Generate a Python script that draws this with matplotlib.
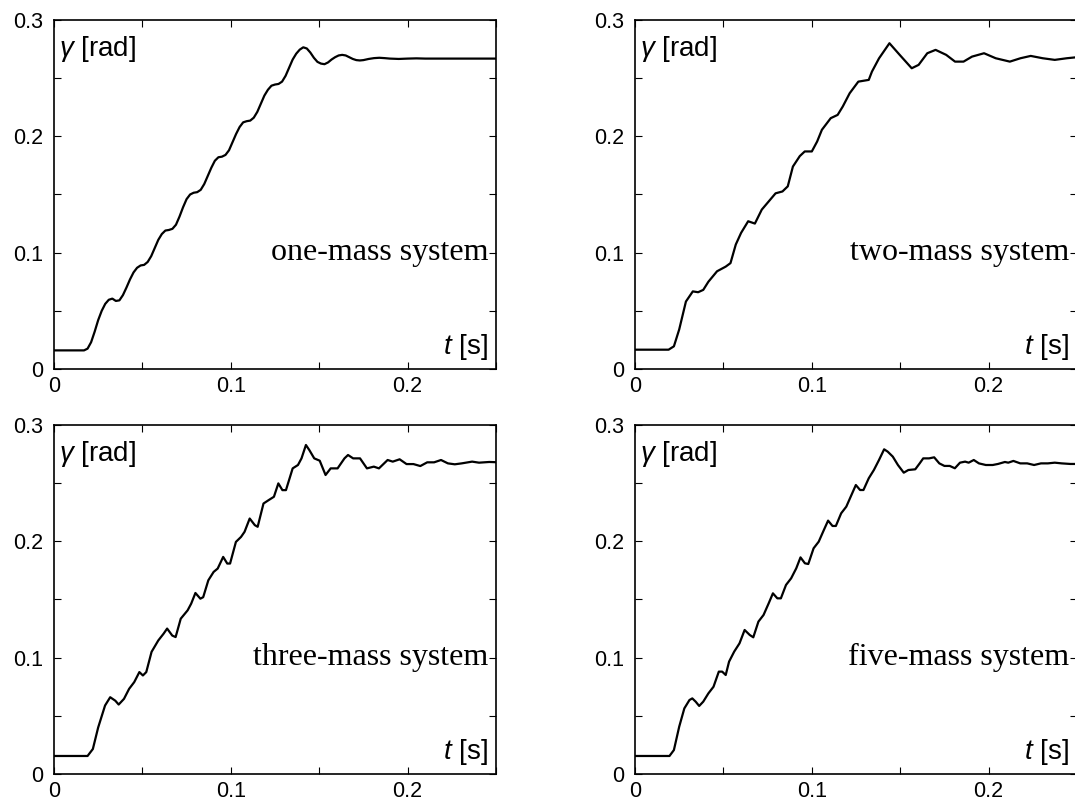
import matplotlib
matplotlib.use("Agg")
import matplotlib.pyplot as plt
from matplotlib.ticker import FixedLocator, FixedFormatter

plt.rcParams['font.family'] = ['Liberation Sans', 'DejaVu Sans']
plt.rcParams['mathtext.fontset'] = 'custom'
plt.rcParams['mathtext.rm'] = 'Liberation Sans'
plt.rcParams['mathtext.it'] = 'Liberation Sans:italic'

# values, t [s] and gamma [rad]
t1 = [0, 0.017, 0.019, 0.021, 0.023, 0.025, 0.027, 0.029, 0.031, 0.033, 0.035, 0.037,
      0.039, 0.041, 0.043, 0.045, 0.047, 0.049, 0.051, 0.053, 0.055, 0.057, 0.059, 0.061,
      0.063, 0.065, 0.067, 0.069, 0.071, 0.073, 0.075, 0.077, 0.079, 0.081, 0.083, 0.085,
      0.087, 0.089, 0.091, 0.093, 0.095, 0.097, 0.099, 0.101, 0.103, 0.105, 0.107, 0.109,
      0.111, 0.113, 0.115, 0.117, 0.119, 0.121, 0.123, 0.125, 0.127, 0.129, 0.131, 0.133,
      0.135, 0.137, 0.139, 0.141, 0.143, 0.145, 0.147, 0.149, 0.151, 0.153, 0.155, 0.157,
      0.159, 0.161, 0.163, 0.165, 0.167, 0.169, 0.171, 0.173, 0.175, 0.178, 0.181, 0.184,
      0.187, 0.190, 0.195, 0.200, 0.205, 0.210, 0.250]
g1 = [0.016, 0.016, 0.0175, 0.023, 0.032, 0.042, 0.050, 0.056, 0.0595, 0.0605, 0.0585, 0.059,
      0.0635, 0.070, 0.077, 0.083, 0.087, 0.089, 0.0895, 0.092, 0.097, 0.104, 0.111, 0.116,
      0.119, 0.1195, 0.1205, 0.124, 0.131, 0.139, 0.146, 0.150, 0.1515, 0.152, 0.154, 0.159,
      0.166, 0.173, 0.179, 0.182, 0.1825, 0.184, 0.188, 0.195, 0.202, 0.208, 0.212, 0.213,
      0.2135, 0.216, 0.221, 0.228, 0.235, 0.240, 0.2435, 0.2445, 0.245, 0.247, 0.252, 0.259,
      0.266, 0.271, 0.2745, 0.2765, 0.2755, 0.272, 0.2675, 0.264, 0.2625, 0.262, 0.2635, 0.266,
      0.268, 0.2695, 0.270, 0.2695, 0.268, 0.2665, 0.2655, 0.2652, 0.2655, 0.2665, 0.2672, 0.2675,
      0.2672, 0.2668, 0.2665, 0.2668, 0.267, 0.2668, 0.2668]

t2 = [0, 0.019, 0.022, 0.025, 0.0288, 0.0327, 0.0357, 0.0386, 0.0415, 0.0464, 0.0513, 0.054,
      0.057, 0.060, 0.064, 0.0678, 0.0717, 0.0756, 0.0795, 0.0834, 0.0864, 0.0893, 0.0932,
      0.096, 0.100, 0.103, 0.1057, 0.1107, 0.1146, 0.1175, 0.1214, 0.1263, 0.1322, 0.134,
      0.138, 0.1439, 0.1497, 0.1565, 0.1604, 0.1653, 0.170, 0.176, 0.181, 0.1858, 0.1906,
      0.1974, 0.204, 0.212, 0.218, 0.2238, 0.2306, 0.2374, 0.2442, 0.250]
g2 = [0.0166, 0.0166, 0.0195, 0.034, 0.058, 0.0667, 0.066, 0.068, 0.075, 0.084, 0.088, 0.091,
      0.107, 0.117, 0.127, 0.125, 0.137, 0.144, 0.151, 0.1526, 0.157, 0.174, 0.183,
      0.187, 0.187, 0.1955, 0.2056, 0.2156, 0.2184, 0.2256, 0.237, 0.247, 0.2485, 0.2556,
      0.267, 0.280, 0.270, 0.2585, 0.2614, 0.2714, 0.2743, 0.270, 0.2642, 0.2642, 0.2685,
      0.2714, 0.2671, 0.2642, 0.2671, 0.2691, 0.2671, 0.2657, 0.2671, 0.268]

t3 = [0, 0.019, 0.022, 0.025, 0.0289, 0.0318, 0.0347, 0.0366, 0.0396, 0.0425, 0.0454, 0.0483,
      0.0503, 0.0522, 0.0552, 0.059, 0.062, 0.064, 0.0669, 0.0688, 0.0717, 0.0756, 0.0776,
      0.080, 0.0828, 0.0844, 0.0873, 0.0903, 0.0926, 0.0957, 0.098, 0.0996, 0.1029, 0.1058,
      0.1078, 0.1107, 0.1136, 0.1152, 0.1185, 0.1214, 0.1244, 0.1269, 0.1292, 0.1312, 0.135,
      0.138, 0.140, 0.1425, 0.1444, 0.1472, 0.1503, 0.1536, 0.1565, 0.1604, 0.1643, 0.1663,
      0.1692, 0.1731, 0.177, 0.1809, 0.1838, 0.1887, 0.1916, 0.1955, 0.1994, 0.2033, 0.2072,
      0.2111, 0.215, 0.2189, 0.2228, 0.2267, 0.2306, 0.2365, 0.2404, 0.2462, 0.250]
g3 = [0.0155, 0.0155, 0.0215, 0.040, 0.0589, 0.066, 0.063, 0.0597, 0.0646, 0.0732, 0.079, 0.0876,
      0.0847, 0.0876, 0.105, 0.1148, 0.1206, 0.125, 0.119, 0.1177, 0.1335, 0.1407, 0.1464,
      0.1556, 0.1507, 0.152, 0.1665, 0.1737, 0.1766, 0.1866, 0.1809, 0.1809, 0.1995, 0.2038,
      0.2082, 0.2196, 0.2139, 0.2125, 0.2325, 0.2354, 0.2383, 0.2498, 0.244, 0.244, 0.2627,
      0.2656, 0.2713, 0.2828, 0.2785, 0.2713, 0.2693, 0.257, 0.2627, 0.2627, 0.2713, 0.2742,
      0.2713, 0.2713, 0.2627, 0.2642, 0.2627, 0.2699, 0.2685, 0.2705, 0.2664, 0.2664, 0.2647,
      0.2679, 0.2679, 0.2699, 0.267, 0.2662, 0.267, 0.2685, 0.2676, 0.2682, 0.268]

t4 = [0, 0.0195, 0.022, 0.025, 0.0279, 0.0308, 0.0324, 0.0343, 0.0363, 0.0386, 0.0415, 0.0444,
      0.0474, 0.0493, 0.0513, 0.0532, 0.0561, 0.0591, 0.062, 0.0649, 0.0669, 0.0698, 0.0727,
      0.0756, 0.078, 0.0805, 0.0825, 0.0854, 0.0883, 0.0912, 0.0936, 0.0961, 0.098, 0.101,
      0.1039, 0.1068, 0.1092, 0.1117, 0.1136, 0.1166, 0.1195, 0.1224, 0.1249, 0.1273, 0.1292,
      0.1322, 0.1351, 0.138, 0.1409, 0.1429, 0.1458, 0.1487, 0.152, 0.1546, 0.1585, 0.161,
      0.163, 0.1663, 0.1692, 0.1721, 0.175, 0.178, 0.1809, 0.1838, 0.1867, 0.1887, 0.1916,
      0.1945, 0.1984, 0.2023, 0.2053, 0.2092, 0.2111, 0.214, 0.2179, 0.2218, 0.2257, 0.2296,
      0.2335, 0.2374, 0.2413, 0.2462, 0.250]
g4 = [0.0155, 0.0155, 0.0206, 0.0407, 0.0564, 0.0636, 0.065, 0.0622, 0.0585, 0.0622, 0.0693, 0.075,
      0.088, 0.088, 0.0851, 0.0966, 0.1052, 0.1123, 0.1238, 0.1195, 0.1175, 0.131, 0.1367,
      0.1467, 0.1553, 0.151, 0.151, 0.1625, 0.1682, 0.1768, 0.1862, 0.1811, 0.1805, 0.194,
      0.1997, 0.2097, 0.2178, 0.2132, 0.2132, 0.2241, 0.2298, 0.2398, 0.2484, 0.2441, 0.2441,
      0.2542, 0.2613, 0.2699, 0.2791, 0.2771, 0.2728, 0.2656, 0.259, 0.2613, 0.2619, 0.267,
      0.2713, 0.2713, 0.2722, 0.267, 0.2648, 0.2648, 0.2628, 0.2676, 0.2685, 0.2676, 0.2699,
      0.267, 0.2656, 0.2656, 0.2665, 0.2682, 0.2676, 0.2691, 0.267, 0.267, 0.2656, 0.267,
      0.267, 0.2676, 0.267, 0.2665, 0.2665]

labels = ["one-mass system", "two-mass system", "three-mass system", "five-mass system"]
x_ticks = [0, 0.05, 0.1, 0.15, 0.2, 0.25]
x_ticklabels = ["0", "", "0.1", "", "0.2", ""]
y_ticks = [0, 0.05, 0.1, 0.15, 0.2, 0.25, 0.3]
y_ticklabels = ["0", "", "0.1", "", "0.2", "", "0.3"]

fig = plt.figure(figsize=(10.75, 8.02), dpi=100)
# axes boxes in figure fraction (right column runs past the image edge, as in the source)
boxes = [(0.0502, 0.5399), (0.5907, 0.5399), (0.0502, 0.0349), (0.5907, 0.0349)]
series = [(t1, g1), (t2, g2), (t3, g3), (t4, g4)]

for (x0, y0), (t, g), lab in zip(boxes, series, labels):
    ax = fig.add_axes([x0, y0, 0.4112, 0.4352])
    ax.plot(t, g, color='black', lw=1.6, solid_joinstyle='round')
    ax.set_xlim(0, 0.25)
    ax.set_ylim(0, 0.3)
    ax.xaxis.set_major_locator(FixedLocator(x_ticks))
    ax.xaxis.set_major_formatter(FixedFormatter(x_ticklabels))
    ax.yaxis.set_major_locator(FixedLocator(y_ticks))
    ax.yaxis.set_major_formatter(FixedFormatter(y_ticklabels))
    ax.tick_params(direction='in', length=5, width=0.8, top=True, right=True,
                   labelsize=15.5, colors='black')
    ax.tick_params(axis='y', pad=8)
    ax.tick_params(axis='x', pad=5)
    for s in ax.spines.values():
        s.set_linewidth(1.2)
    ax.text(0.003, 0.275, r"$\gamma$ [rad]", fontsize=20, ha='left', va='center')
    ax.text(0.2455, 0.019, r"$t$ [s]", fontsize=20, ha='right', va='center')
    ax.text(0.2455, 0.1005, lab, fontsize=23, family='Liberation Serif',
            ha='right', va='center')

fig.savefig("out.png", dpi=100)
